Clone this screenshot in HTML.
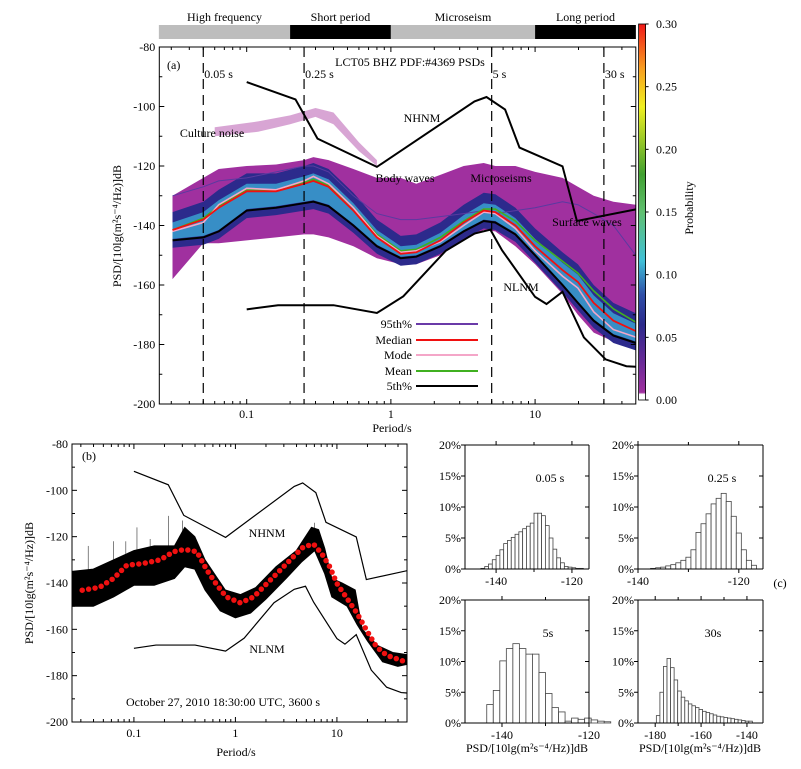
<!DOCTYPE html>
<html><head><meta charset="utf-8"><style>
html,body{margin:0;padding:0;background:#fff;}
svg{display:block;font-family:"Liberation Serif",serif;}
</style></head><body>
<svg id="fig" width="801" height="769" viewBox="0 0 801 769" xmlns="http://www.w3.org/2000/svg">
<defs>
<linearGradient id="cbar" x1="0" y1="1" x2="0" y2="0">
<stop offset="0" stop-color="#ffffff"/><stop offset="0.015" stop-color="#ffffff"/>
<stop offset="0.02" stop-color="#a0309f"/><stop offset="0.1" stop-color="#6a2a98"/>
<stop offset="0.2" stop-color="#2c2a8c"/><stop offset="0.28" stop-color="#2f4ea8"/>
<stop offset="0.37" stop-color="#40c0d8"/><stop offset="0.5" stop-color="#60c070"/>
<stop offset="0.6" stop-color="#40a030"/><stop offset="0.78" stop-color="#f0f020"/>
<stop offset="0.88" stop-color="#f8a020"/><stop offset="1" stop-color="#f01818"/>
</linearGradient>
</defs>
<g id="pa"></g>
<g id="pb"></g>
<g id="pc"></g>
</svg>
<script>
// ---------- Panel (a) data ----------
const periodsA = [0.0306,0.05,0.064,0.1,0.16,0.25,0.29,0.37,0.55,0.8,1.17,1.5,2.2,3.2,4.4,5.3,7.3,10,15.5,19.8,25.5,34.9,49.9];
const medianA = [-141.5,-138,-134,-128.5,-128.5,-126,-125,-127,-135,-144,-149.5,-149,-145,-139,-135,-135.5,-140,-147,-155,-159,-166,-172,-175.5];
const p5A = [-145,-144,-142,-135,-134,-132.5,-132,-133.5,-140,-147,-151,-150.5,-147,-142,-138.5,-139,-143,-150,-160,-166,-172,-177,-179.5];
const meanA = [-141.5,-137.5,-133.5,-128,-128,-125.5,-124.5,-126.5,-134,-143,-148.5,-148,-144,-138.5,-134.5,-134.5,-138.5,-145,-152,-156,-162,-168,-172.5];
const modeA = [-142,-139,-133,-127.5,-128,-125,-123.5,-126,-134,-143.5,-149,-148.5,-145.5,-140,-135.5,-136,-141,-148.5,-157,-161,-169,-175,-177.5];
const p95A = [-130,-127,-125,-124,-122,-120,-120,-122,-130,-136,-138,-138,-137,-136,-135,-136,-135,-134,-132,-133,-136,-140,-150];
const upperEnvA = [-130,-124,-121,-120,-119.5,-118,-117,-118,-121,-124,-124,-126,-123,-120,-119,-120,-120,-122,-124,-127,-130,-132,-133];
const lowerEnvA = [-158,-146,-146,-145,-144,-143,-143,-144,-147,-151,-153,-153,-150,-145,-141.5,-142,-147,-153,-163,-170,-176,-179,-181];
const culturePeriods = [0.06,0.12,0.2,0.3,0.4,0.6,0.8];
const cultureUpper = [-107,-105,-103,-100.5,-102,-112,-118];
const cultureLower = [-110,-108.5,-106,-103.5,-106,-115,-120];
// New noise models (shared by a and b)
const nhnmPeriods = [0.1,0.218,0.31,0.8,3.8,4.6,6.2,7.8,15.5,19.5,50];
const nhnmValues = [-91.8,-97.6,-110.8,-120.3,-98.3,-96.8,-101,-113.8,-120.1,-138.5,-134.6];
const nlnmPeriods = [0.1,0.165,0.4,0.8,1.22,2.4,3.8,4.9,5.9,10,12,15.5,21.8,30.9,43,50];
const nlnmValues = [-168.2,-166.8,-166.8,-169.4,-163.8,-148.5,-142.7,-141.4,-148.3,-164,-166.4,-162.3,-177.6,-185,-187.3,-187.5];
const markerPeriods = [0.05,0.25,5,30];
const markerLabels = ["0.05 s","0.25 s","5 s","30 s"];
const yTicksA = [-80,-100,-120,-140,-160,-180,-200];
const cbTicks = [0,0.05,0.10,0.15,0.20,0.25,0.30];
// ---------- Panel (b) data ----------
const smoothLogPeriod = [-1.51,-1.34,-1.2,-1.07,-0.91,-0.74,-0.61,-0.5,-0.38,-0.28,-0.18,-0.09,0.05,0.18,0.31,0.44,0.57,0.67,0.77,0.85,0.93,1.0,1.1,1.2,1.3,1.39,1.49,1.59,1.7];
const smoothPSD = [-143.1,-141.9,-138,-132.3,-131.6,-130,-126.5,-125.5,-126.5,-134.5,-141,-146,-148.6,-146,-140.2,-134.5,-128.7,-124.4,-123.2,-127.3,-133,-140.2,-146.7,-153.2,-161,-167.6,-171.2,-172.7,-174.4];
const traceUpLog = [-1.61,-1.4,-1.2,-1.0,-0.8,-0.6,-0.5,-0.4,-0.3,-0.1,0.05,0.2,0.4,0.6,0.75,0.82,0.88,0.95,1.05,1.18,1.25,1.4,1.55,1.7];
const traceUp = [-135,-134,-130,-126,-124,-124,-116,-120,-130,-143,-145,-142,-133,-126,-116,-117,-125,-138,-140,-143,-160,-167,-170,-171];
const traceLoLog = [-1.61,-1.4,-1.2,-1.0,-0.8,-0.6,-0.5,-0.4,-0.3,-0.15,0.0,0.15,0.3,0.5,0.65,0.78,0.88,0.95,1.1,1.2,1.3,1.45,1.6,1.7];
const traceLo = [-150,-150,-146,-141,-141,-138,-133,-134,-143,-152,-155,-153,-147,-138,-131,-126,-136,-146,-150,-158,-165,-174,-176,-175];
const spikeLog = [-1.45,-1.2,-1.08,-0.97,-0.84,-0.66,-0.52,0.78];
const spikeTop = [-124,-122,-122,-116,-121,-111,-113,-114];
const spikeBase = [-136,-134,-131,-128,-128,-128,-122,-122];
const yTicksB = [-80,-100,-120,-140,-160,-180,-200];
// ---------- Panel (c) histogram data ----------
const h1Start=-144, h1Width=1;
const h1Values=[0.1,0.4,0.8,1.5,2.2,3.1,4.1,4.6,5.1,5.6,6.0,6.5,6.9,7.4,9.0,9.0,8.6,7.0,5.0,3.2,1.8,1.0,0.4,0.3,0.2,0.1,0.1];
const h2Start=-137.5, h2Width=1;
const h2Values=[0.1,0.2,0.3,0.5,0.7,1.0,1.4,1.9,3.1,5.9,7.3,8.9,10.5,11.4,12.2,10.9,8.5,5.8,3.1,1.4,0.6];
const h3Start=-143.5, h3Width=1.5;
const h3Values=[3.0,5.3,10.1,12.1,12.9,12.1,11.2,11.2,8.2,4.8,2.5,1.8,0.3,0.8,0.6,0.8,0.5,0.3,0.2];
const h4Start=-179.5, h4Width=1.55;
const h4Values=[1.2,5.0,9.2,10.5,9.0,7.0,5.2,4.2,3.6,3.1,2.8,2.5,2.2,1.9,1.7,1.5,1.3,1.1,1.0,0.9,0.8,0.7,0.6,0.5,0.4,0.3,0.3];
const histPctTicks=[0,5,10,15,20];

const NS="http://www.w3.org/2000/svg";
function mk(parent,tag,attrs,txt){const e=document.createElementNS(NS,tag);for(const k in attrs)e.setAttribute(k,attrs[k]);if(txt!==undefined)e.textContent=txt;parent.appendChild(e);return e;}
const lg=Math.log10;

// ---------- Panel (a) ----------
const pa=document.getElementById('pa');
const A={l:159.3,r:635.8,t:47,b:404};
const xA=p=>A.l+(lg(p)+1.606)*144.2;
const yA=d=>A.t+(-80-d)*(A.b-A.t)/120;
function ptsA(P,V){return P.map((p,i)=>xA(p).toFixed(1)+','+yA(V[i]).toFixed(1));}
function bandA(P,U,L){return ptsA(P,U).concat(ptsA(P,L).reverse()).join(' ');}
const bands=[[0.0246,0.2,'#bdbdbd','High frequency'],[0.2,1,'#000','Short period'],[1,10,'#bdbdbd','Microseism'],[10,50,'#000','Long period']];
bands.forEach(b=>{
 const r=mk(pa,'rect',{x:xA(b[0]),y:25,width:xA(b[1])-xA(b[0]),height:14,fill:b[2]});
 
 
 const t=mk(pa,'text',{x:(xA(b[0])+xA(b[1]))/2,y:21,'font-size':12,'text-anchor':'middle'},b[3]);
 
 
});
mk(pa,'rect',{x:A.l,y:A.t,width:A.r-A.l,height:A.b-A.t,fill:'#fff'});
const clip=mk(pa,'clipPath',{id:'clipA'});mk(clip,'rect',{x:A.l,y:A.t,width:A.r-A.l,height:A.b-A.t});
const gA=mk(pa,'g',{'clip-path':'url(#clipA)'});
let e;
e=mk(gA,'polygon',{points:bandA(culturePeriods,cultureUpper,cultureLower),fill:'#a8389f',opacity:0.45});

e=mk(gA,'polygon',{points:bandA(periodsA,upperEnvA,lowerEnvA),fill:'#a0309f'});

const blueU=medianA.map(v=>v+6), blueL=p5A.map(v=>v-2.5);
e=mk(gA,'polygon',{points:bandA(periodsA,blueU,blueL),fill:'#2c2a8c'});

const cyU=medianA.map(v=>v+2.5), cyL=p5A.map(v=>v+0.5);
e=mk(gA,'polygon',{points:bandA(periodsA,cyU,cyL),fill:'#3aa0d0',opacity:0.85});

const lines=[[p95A,'#5a3aa0',1,'line-95th'],[meanA,'#40b020',1.6,'line-mean'],[modeA,'#f4a6c8',1.6,'line-mode'],[medianA,'#f01010',1.8,'line-median'],[p5A,'#000',2,'line-5th']];
lines.forEach(L=>{e=mk(gA,'polyline',{points:ptsA(periodsA,L[0]).join(' '),fill:'none',stroke:L[1],'stroke-width':L[2]});
 });
e=mk(gA,'polyline',{points:ptsA(nhnmPeriods,nhnmValues).join(' '),fill:'none',stroke:'#000','stroke-width':2});

e=mk(gA,'polyline',{points:ptsA(nlnmPeriods,nlnmValues).join(' '),fill:'none',stroke:'#000','stroke-width':2});

markerPeriods.forEach((p,i)=>{
 e=mk(gA,'line',{x1:xA(p),x2:xA(p),y1:A.t,y2:A.b,stroke:'#000','stroke-width':1.2,'stroke-dasharray':'10,6'});
 
 e=mk(pa,'text',{x:xA(p)+1,y:78,'font-size':12},markerLabels[i]);
 
});
mk(pa,'rect',{x:A.l,y:A.t,width:A.r-A.l,height:A.b-A.t,fill:'none',stroke:'#000','stroke-width':1});
yTicksA.forEach(v=>{const y=yA(v);mk(pa,'line',{x1:A.l,x2:A.l+5,y1:y,y2:y,stroke:'#000'});mk(pa,'line',{x1:A.r,x2:A.r-5,y1:y,y2:y,stroke:'#000'});
 e=mk(pa,'text',{x:A.l-4,y:y+4,'font-size':12,'text-anchor':'end'},v);});
[-90,-110,-130,-150,-170,-190].forEach(v=>{const y=yA(v);mk(pa,'line',{x1:A.l,x2:A.l+3,y1:y,y2:y,stroke:'#000'});mk(pa,'line',{x1:A.r,x2:A.r-3,y1:y,y2:y,stroke:'#000'});});
for(let d=-2;d<=1;d++)for(let m=1;m<10;m++){const p=m*Math.pow(10,d);const x=xA(p);if(x<A.l||x>A.r)continue;const len=m==1?5:3;
 mk(pa,'line',{x1:x,x2:x,y1:A.b,y2:A.b-len,stroke:'#000'});mk(pa,'line',{x1:x,x2:x,y1:A.t,y2:A.t+len,stroke:'#000'});}
[[0.1,'0.1'],[1,'1'],[10,'10']].forEach(t=>{e=mk(pa,'text',{x:xA(t[0]),y:418,'font-size':12,'text-anchor':'middle'},t[1]);});
e=mk(pa,'text',{x:392,y:432,'font-size':12,'text-anchor':'middle'},'Period/s');
e=mk(pa,'text',{x:0,y:0,'font-size':12,'text-anchor':'middle',transform:'translate(121,226) rotate(-90)'},'PSD/[10lg(m²s⁻⁴/Hz)]dB');
const annA=[['(a)',167,69,'start','panel-label'],['LCT05 BHZ PDF:#4369 PSDs',410,66,'middle','chart-title'],['Culture noise',212,137,'middle','annotation-culture-noise'],['NHNM',422,122,'middle','annotation-nhnm'],['Body waves',405,182,'middle','annotation-body-waves'],['Microseisms',501,182,'middle','annotation-microseisms'],['Surface waves',587,226,'middle','annotation-surface-waves'],['NLNM',521,291,'middle','annotation-nlnm']];
annA.forEach(a=>{e=mk(pa,'text',{x:a[1],y:a[2],'font-size':12,'text-anchor':a[3]},a[0]);});
const legItems=[['95th%','#6a3aa8'],['Median','#f01010'],['Mode','#f4a6c8'],['Mean','#40b020'],['5th%','#000']];
const legY=[324,340,355,371,386];
legItems.forEach((it,i)=>{
 e=mk(pa,'text',{x:412,y:legY[i]+4,'font-size':12,'text-anchor':'end'},it[0]);
 e=mk(pa,'line',{x1:416,x2:478,y1:legY[i],y2:legY[i],stroke:it[1],'stroke-width':2});
});
const CB={x:638.6,w:7,t:24,b:400};
e=mk(pa,'rect',{x:CB.x,y:CB.t,width:CB.w,height:CB.b-CB.t,fill:'url(#cbar)',stroke:'#000','stroke-width':0.8});

cbTicks.forEach(v=>{const y=CB.b-(v/0.3)*(CB.b-CB.t);mk(pa,'line',{x1:CB.x+CB.w,x2:CB.x+CB.w+3,y1:y,y2:y,stroke:'#000'});
 e=mk(pa,'text',{x:656,y:y+4,'font-size':12},v.toFixed(2));});
e=mk(pa,'text',{x:0,y:0,'font-size':12,'text-anchor':'middle',transform:'translate(693,208) rotate(-90)'},'Probability');

// ---------- Panel (b) ----------
const pb=document.getElementById('pb');
const B={l:72,r:407,t:444,b:722};
const xB=lp=>B.l+(lp+1.61)*101.5;
const yB=d=>B.t+(-80-d)*(B.b-B.t)/120;
const clipB=mk(pb,'clipPath',{id:'clipB'});mk(clipB,'rect',{x:B.l,y:B.t,width:B.r-B.l,height:B.b-B.t});
const gB=mk(pb,'g',{'clip-path':'url(#clipB)'});
const up=traceUpLog.map((l,i)=>xB(l).toFixed(1)+','+yB(traceUp[i]).toFixed(1));
const lo=traceLoLog.map((l,i)=>xB(l).toFixed(1)+','+yB(traceLo[i]).toFixed(1)).reverse();
e=mk(gB,'polygon',{points:up.concat(lo).join(' '),fill:'#000',stroke:'#000','stroke-width':1});

spikeLog.forEach((l,i)=>{e=mk(gB,'line',{x1:xB(l),x2:xB(l),y1:yB(spikeTop[i]),y2:yB(spikeBase[i]),stroke:'#000','stroke-width':0.7,opacity:0.7});
 });
e=mk(gB,'polyline',{points:nhnmPeriods.map((p,i)=>xB(lg(p))+','+yB(nhnmValues[i])).join(' '),fill:'none',stroke:'#000','stroke-width':1.2});

e=mk(gB,'polyline',{points:nlnmPeriods.map((p,i)=>xB(lg(p))+','+yB(nlnmValues[i])).join(' '),fill:'none',stroke:'#000','stroke-width':1.2});

e=mk(gB,'polyline',{points:smoothLogPeriod.map((l,i)=>xB(l).toFixed(1)+','+yB(smoothPSD[i]).toFixed(1)).join(' '),fill:'none',stroke:'#f01010','stroke-width':5.5,'stroke-linecap':'round','stroke-dasharray':'0 6.5'});

mk(pb,'rect',{x:B.l,y:B.t,width:B.r-B.l,height:B.b-B.t,fill:'none',stroke:'#000','stroke-width':1});
yTicksB.forEach(v=>{const y=yB(v);mk(pb,'line',{x1:B.l,x2:B.l+5,y1:y,y2:y,stroke:'#000'});mk(pb,'line',{x1:B.r,x2:B.r-5,y1:y,y2:y,stroke:'#000'});
 e=mk(pb,'text',{x:B.l-4,y:y+4,'font-size':12,'text-anchor':'end'},v);});
[-90,-110,-130,-150,-170,-190].forEach(v=>{const y=yB(v);mk(pb,'line',{x1:B.l,x2:B.l+3,y1:y,y2:y,stroke:'#000'});mk(pb,'line',{x1:B.r,x2:B.r-3,y1:y,y2:y,stroke:'#000'});});
for(let d=-2;d<=1;d++)for(let m=1;m<10;m++){const p=m*Math.pow(10,d);const x=xB(lg(p));if(x<B.l||x>B.r)continue;const len=m==1?5:3;
 mk(pb,'line',{x1:x,x2:x,y1:B.b,y2:B.b-len,stroke:'#000'});mk(pb,'line',{x1:x,x2:x,y1:B.t,y2:B.t+len,stroke:'#000'});}
[[0.1,'0.1'],[1,'1'],[10,'10']].forEach(t=>{e=mk(pb,'text',{x:xB(lg(t[0])),y:737,'font-size':12,'text-anchor':'middle'},t[1]);});
e=mk(pb,'text',{x:236,y:756,'font-size':12,'text-anchor':'middle'},'Period/s');
e=mk(pb,'text',{x:0,y:0,'font-size':12,'text-anchor':'middle',transform:'translate(33,583) rotate(-90)'},'PSD/[10lg(m²s⁻⁴/Hz)]dB');
const annB=[['(b)',82,460,'start','panel-label'],['NHNM',267,537,'middle','annotation-nhnm'],['NLNM',267,653,'middle','annotation-nlnm'],['October 27, 2010 18:30:00 UTC, 3600 s',223,706,'middle','annotation-date']];
annB.forEach(a=>{e=mk(pb,'text',{x:a[1],y:a[2],'font-size':12,'text-anchor':a[3]},a[0]);});

// ---------- Panel (c) ----------
const pc=document.getElementById('pc');
function hist(name,box,xmin,xmax,start,width,vals,majors,minors,label,labPos){
 const g=mk(pc,'g',{});
 
 
 const xs=v=>box.l+(v-xmin)/(xmax-xmin)*(box.r-box.l);
 const ys=p=>box.b-p/20*(box.b-box.t);
 vals.forEach((v,i)=>{const x0=xs(start+i*width),x1=xs(start+(i+1)*width);
  const r=mk(g,'rect',{x:x0,y:ys(v),width:x1-x0,height:box.b-ys(v),fill:'#fff',stroke:'#444','stroke-width':0.8});
  
  });
 mk(g,'line',{x1:box.l,x2:box.l,y1:box.t,y2:box.b,stroke:'#000'});
 mk(g,'line',{x1:box.r,x2:box.r,y1:box.t,y2:box.b,stroke:'#000'});
 mk(g,'line',{x1:box.l,x2:box.r,y1:box.b,y2:box.b,stroke:'#000'});
 mk(g,'line',{x1:box.l,x2:box.r,y1:box.t,y2:box.t,stroke:'#000'});
 histPctTicks.forEach(p=>{const y=ys(p);mk(g,'line',{x1:box.l,x2:box.l-4,y1:y,y2:y,stroke:'#000'});mk(g,'line',{x1:box.r,x2:box.r-4,y1:y,y2:y,stroke:'#000'});
  const t=mk(g,'text',{x:box.l-4,y:y+4,'font-size':12,'text-anchor':'end'},p+'%');});
 majors.forEach(v=>{const x=xs(v);mk(g,'line',{x1:x,x2:x,y1:box.b,y2:box.b+4,stroke:'#000'});mk(g,'line',{x1:x,x2:x,y1:box.t,y2:box.t-4,stroke:'#000'});
  const t=mk(g,'text',{x:x,y:box.b+16,'font-size':12,'text-anchor':'middle'},v);});
 minors.forEach(v=>{const x=xs(v);mk(g,'line',{x1:x,x2:x,y1:box.b,y2:box.b+3,stroke:'#000'});mk(g,'line',{x1:x,x2:x,y1:box.t,y2:box.t-3,stroke:'#000'});});
 const t=mk(g,'text',{x:labPos[0],y:labPos[1],'font-size':12,'text-anchor':'middle'},label);
}
hist('hist-0-05s',{l:465,r:589,t:445,b:569},-148.2,-115.5,h1Start,h1Width,h1Values,[-140,-120],[-130],'0.05 s',[550,482]);
hist('hist-0-25s',{l:638,r:763,t:445,b:569},-140,-115.2,h2Start,h2Width,h2Values,[-140,-120],[-130],'0.25 s',[722,482]);
hist('hist-5s',{l:465,r:589,t:600,b:723},-148.5,-120,h3Start,h3Width,h3Values,[-140,-120],[-130],'5s',[548,637]);
hist('hist-30s',{l:638,r:763,t:600,b:723},-187.5,-133,h4Start,h4Width,h4Values,[-180,-160,-140],[-170,-150],'30s',[713,637]);
[['(c)',780,587,'panel-label'],['PSD/[10lg(m²s⁻⁴/Hz)]dB',527,752,'hist-x-axis-title'],['PSD/[10lg(m²s⁻⁴/Hz)]dB',700,752,'hist-x-axis-title']].forEach(a=>{
 e=mk(pc,'text',{x:a[1],y:a[2],'font-size':12,'text-anchor':'middle'},a[0]);});
</script>
</body></html>
